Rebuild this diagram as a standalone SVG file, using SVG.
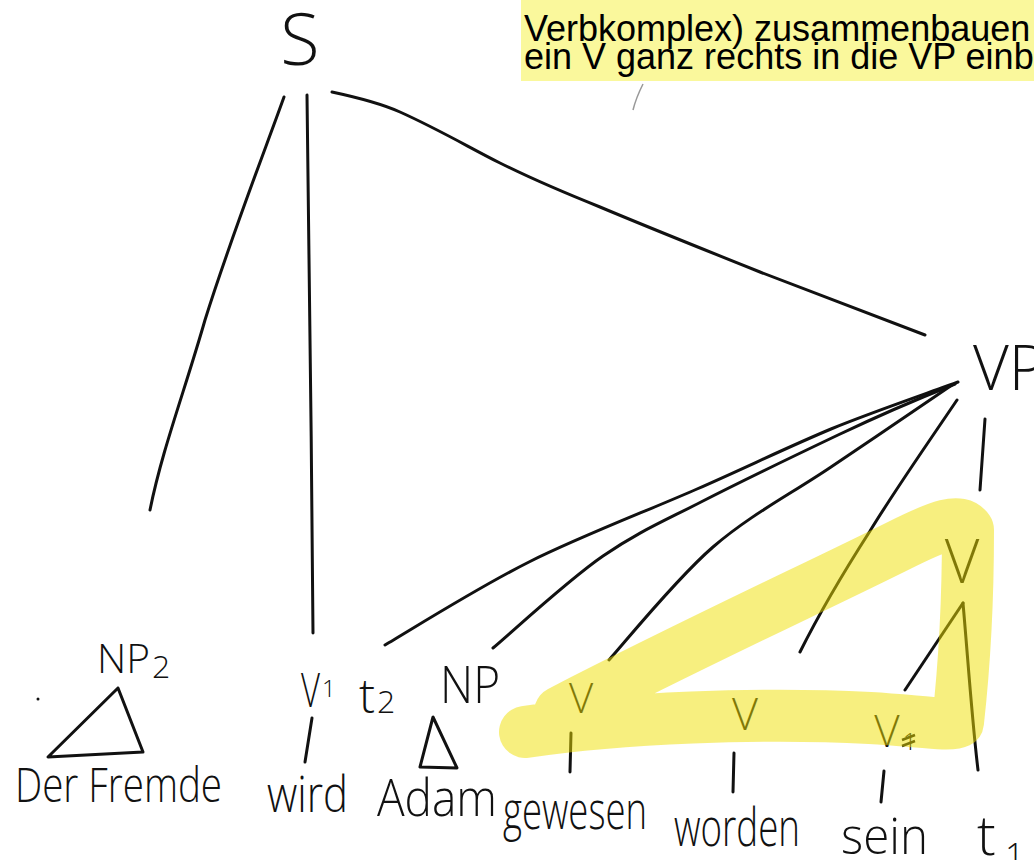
<svg xmlns="http://www.w3.org/2000/svg" width="1034" height="860" viewBox="0 0 1034 860">
<style>
.hw{font-family:"Open Sans","DejaVu Sans",sans-serif;font-weight:300;fill:#111}
.ln{fill:none;stroke:#111;stroke-width:3;stroke-linecap:round;stroke-linejoin:round}
.note{font-family:"Liberation Sans",Arial,sans-serif;font-size:36px;fill:#000}
</style>
<rect width="1034" height="860" fill="#ffffff"/>
<g id="note">
<rect x="521" y="0" width="513" height="81" fill="#faf89c"/>
<text class="note" x="524" y="41">Verbkomplex) zusammenbauen</text>
<text class="note" x="524" y="69">ein V ganz rechts in die VP einbauen</text>
<path d="M643 84 Q636 98 633 110" fill="none" stroke="#999" stroke-width="1.5"/>
</g>
<g id="connectors">
<path class="ln" d="M284,97 C265,150 230,240 205,320 C185,390 162,450 150,510"/>
<path class="ln" d="M307,95 C309,300 312,450 313,633"/>
<path class="ln" d="M332,92 C360,98 380,103 400,112 C440,130 470,148 500,163 C540,183 570,195 600,207 C650,228 700,248 760,272 C820,295 880,318 925,335"/>
<path class="ln" d="M385,645 C409,631 477,588 529,562 C581,536 647,511 697,489 C747,467 788,447 831,429 C875,411 937,390 958,382"/>
<path class="ln" d="M493,648 C511,633 568,580 603,556 C638,532 662,522 701,502 C740,482 796,455 838,435 C880,415 935,392 955,384"/>
<path class="ln" d="M609,660 C626,641 676,579 713,547 C750,515 791,494 831,467 C871,440 932,399 952,385"/>
<path class="ln" d="M800,652 C820,612 845,570 870,531 C895,490 930,440 957,400"/>
<path class="ln" d="M985,419 L980,490"/>
<path class="ln" d="M963,603 L905,690"/>
<path class="ln" d="M963,603 C968,660 972,720 978,770"/>
<path class="ln" d="M312,718 L305,762"/>
<path class="ln" d="M571,733 L570,772"/>
<path class="ln" d="M734,753 L733,792"/>
<path class="ln" d="M884,771 L881,802"/>
</g>
<g id="node-S"><text class="hw" x="300" y="65" font-size="72" text-anchor="middle">S</text></g>
<g id="node-VP"><text class="hw" x="973" y="390" font-size="62">VP</text></g>
<g id="node-NP2">
<text class="hw" x="97" y="673" font-size="40" textLength="53" lengthAdjust="spacingAndGlyphs">NP</text>
<text class="hw" x="152" y="678" font-size="32">2</text>
<path class="ln" d="M118,688 L48,757 L143,752 Z"/>
<text class="hw" x="15" y="802" font-size="48" textLength="207" lengthAdjust="spacingAndGlyphs">Der Fremde</text>
<circle cx="38" cy="699" r="1.5" fill="#111"/>
</g>
<g id="node-V1">
<text class="hw" x="301" y="707" font-size="48" textLength="19" lengthAdjust="spacingAndGlyphs">V</text>
<text class="hw" x="322" y="697" font-size="24">1</text>
<text class="hw" x="267" y="812" font-size="50" textLength="81" lengthAdjust="spacingAndGlyphs">wird</text>
</g>
<g id="node-t2">
<text class="hw" x="359" y="713" font-size="48">t</text>
<text class="hw" x="377" y="713" font-size="32">2</text>
</g>
<g id="node-NP">
<text class="hw" x="440" y="703" font-size="52" textLength="60" lengthAdjust="spacingAndGlyphs">NP</text>
<path class="ln" d="M433,717 L420,767 L457,768 Z"/>
<text class="hw" x="377" y="816" font-size="52" textLength="120" lengthAdjust="spacingAndGlyphs">Adam</text>
</g>
<g id="node-V-gewesen">
<text class="hw" x="581" y="713" font-size="42" text-anchor="middle">V</text>
<text class="hw" x="503" y="829" font-size="54" textLength="144" lengthAdjust="spacingAndGlyphs">gewesen</text>
</g>
<g id="node-V-worden">
<text class="hw" x="745" y="730" font-size="45" text-anchor="middle">V</text>
<text class="hw" x="674" y="846" font-size="54" textLength="126" lengthAdjust="spacingAndGlyphs">worden</text>
</g>
<g id="node-V-sein">
<text class="hw" x="887" y="747" font-size="44" text-anchor="middle">V</text>
<text class="hw" x="903" y="750" font-size="24">1</text>
<path d="M902,740 L915,735 M902,746 L915,741" stroke="#111" stroke-width="2.5" fill="none"/>
<text class="hw" x="841" y="854" font-size="50" textLength="87" lengthAdjust="spacingAndGlyphs">sein</text>
</g>
<g id="node-V-top">
<text class="hw" x="962" y="583" font-size="60" text-anchor="middle">V</text>
</g>
<g id="node-t1">
<text class="hw" x="977" y="855" font-size="56">t</text>
<text class="hw" x="1005" y="868" font-size="34">1</text>
</g>
<g id="highlight">
<path d="M525,732 C620,718 760,712 870,718 C920,721 950,726 958,722 C965,660 968,590 968,530 C960,518 940,525 900,545 C820,585 700,640 560,712" fill="none" stroke="#f0e000" stroke-opacity="0.5" stroke-width="52" stroke-linecap="round" stroke-linejoin="round"/>
</g>
</svg>
